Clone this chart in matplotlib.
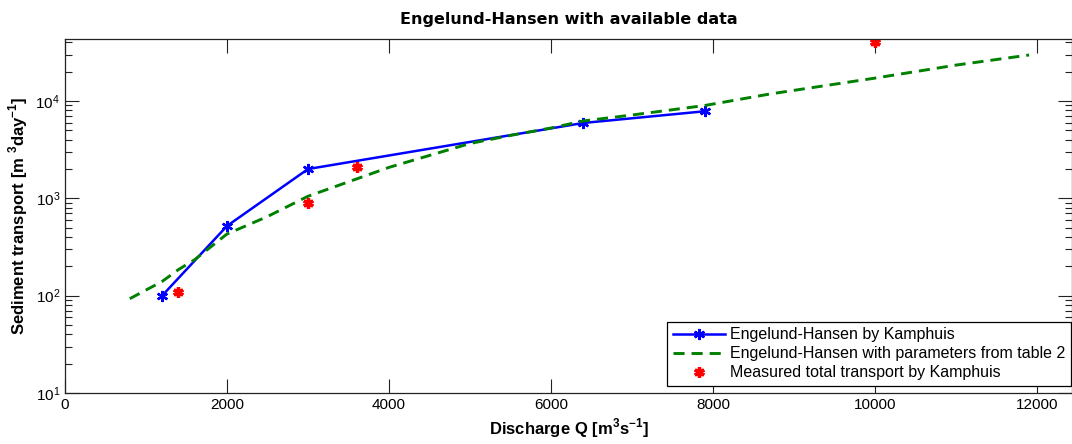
import numpy as np
import matplotlib
matplotlib.use("Agg")
import matplotlib.pyplot as plt
from matplotlib.ticker import LogLocator, NullFormatter, FixedLocator

plt.rcParams['font.family'] = ['Liberation Sans', 'DejaVu Sans']
plt.rcParams['mathtext.fontset'] = 'custom'
plt.rcParams['mathtext.rm'] = 'Liberation Sans'
plt.rcParams['mathtext.bf'] = 'Liberation Sans:bold'

# Engelund-Hansen (Kamphuis)
q_kamp = [1200, 2000, 3000, 6400, 7900]
s_kamp = [100, 520, 2000, 5950, 7850]

# Engelund-Hansen with parameters from table 2
q_eh = [800, 1200, 1400, 1600, 2000, 2500, 3000, 4000, 5000, 5500, 6000,
        6400, 7000, 7900, 8700, 10000, 11000, 11900]
s_eh = [93, 140, 185, 234, 430, 650, 1050, 2080, 3660, 4430, 5280,
        6240, 7180, 9000, 11800, 17200, 23400, 29700]

# measured total transport
q_meas = [1400, 3000, 3600, 10000]
s_meas = [110, 900, 2100, 40000]

asterisk = (6, 2, 0)

fig = plt.figure(figsize=(10.72, 4.44), dpi=100)
ax = fig.add_axes([0.0606, 0.115, 0.9394, 0.797])

ax.plot(q_kamp, s_kamp, color=(0, 0, 1), lw=1.8, marker=asterisk,
        markersize=8, markeredgewidth=1.7, label="Engelund-Hansen by Kamphuis")
ax.plot(q_eh, s_eh, color=(0, 0.5, 0), lw=2.1, ls=(0, (3.8, 2.4)),
        label="Engelund-Hansen with parameters from table 2")
ax.plot(q_meas, s_meas, ls="none", color=(1, 0, 0), marker=asterisk,
        markersize=7.5, markeredgewidth=2.4, label="Measured total transport by Kamphuis")

ax.set_yscale("log")
ax.set_xlim(0, 12430)
ax.set_ylim(10, 43300)
ax.xaxis.set_major_locator(FixedLocator(np.arange(0, 12001, 2000)))
ax.yaxis.set_major_locator(LogLocator(base=10, numticks=10))
ax.yaxis.set_minor_locator(LogLocator(base=10, subs=np.arange(2, 10), numticks=10))
ax.yaxis.set_minor_formatter(NullFormatter())

ax.tick_params(which="both", direction="in", top=True, right=True,
               labelsize=11, width=0.8, color="#222222")
ax.tick_params(which="major", length=10)
ax.tick_params(which="minor", length=5)
for sp in ax.spines.values():
    sp.set_linewidth(0.9)
    sp.set_color("#222222")

ax.set_title("Engelund-Hansen with available data", fontsize=11.5,
             fontweight="bold", family="DejaVu Sans", pad=11)
ax.set_xlabel(r"Discharge Q [m$^\mathbf{3}$s$^\mathbf{-1}$]", fontsize=12,
              fontweight="bold", labelpad=3)
ax.set_ylabel(r"Sediment transport [m $^\mathbf{3}$day$^\mathbf{-1}$]", fontsize=12,
              fontweight="bold", labelpad=4)

leg = ax.legend(loc="lower right", bbox_to_anchor=(0.999, 0.02), borderaxespad=0,
                fontsize=11.5, handlelength=3.3, handletextpad=0.3,
                labelspacing=0.25, borderpad=0.35, fancybox=False,
                edgecolor="black", framealpha=1)
leg.get_frame().set_linewidth(0.9)

fig.savefig("out.png", dpi=100)
